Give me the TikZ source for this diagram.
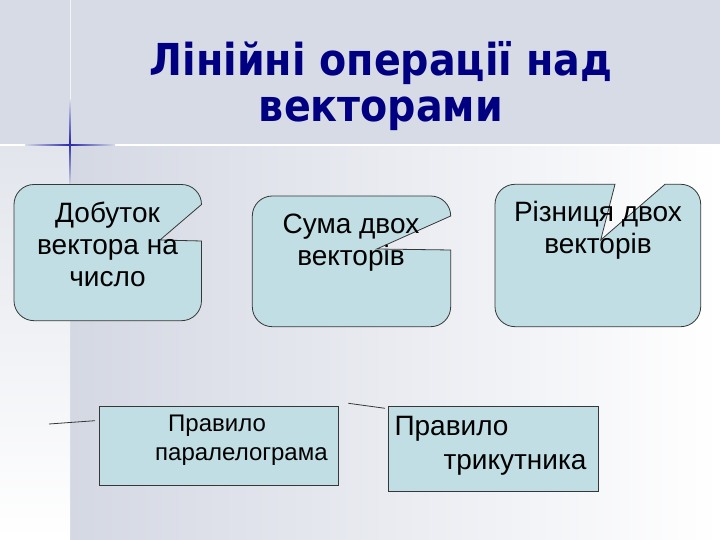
\documentclass[tikz,border=0pt]{standalone}
\usepackage{fontspec}
\setmainfont{Liberation Sans}
\newfontfamily\titlefont{DejaVu Sans Condensed Bold}
\definecolor{bandcol}{RGB}{215,219,230}
\definecolor{lowcol}{RGB}{212,216,227}
\definecolor{stripcol}{RGB}{226,229,236}
\definecolor{crossblue}{RGB}{40,40,170}
\definecolor{titleblue}{RGB}{0,0,128}
\definecolor{boxfill}{RGB}{192,222,227}
\definecolor{edgegray}{RGB}{55,55,55}
\begin{document}
\begin{tikzpicture}[x=1pt,y=1pt,
        callout/.style={draw=edgegray, fill=boxfill, line width=0.8pt},
        calltext/.style={font=\fontsize{28}{32}\selectfont, align=center, anchor=base, inner sep=0pt},
        rulebox/.style={draw=edgegray, fill=boxfill, line width=0.8pt,
            align=left, inner xsep=0pt, inner ysep=0pt, anchor=north west},
        ruletext/.style={align=left, inner sep=0pt, anchor=base west},
        stray/.style={draw=edgegray, line width=0.8pt}
        ]

        \useasboundingbox (0,0) rectangle (720,540);

        \fill[bandcol] (0,395) rectangle (720,540);
        \shade[left color=lowcol, right color=white] (70,0) rectangle (720,395);
        \shade[top color=stripcol, bottom color=white] (0,0) rectangle (70,395);
        \draw[white, line width=1.5pt] (0,395) -- (720,395);
        \draw[white!70!bandcol, line width=1pt] (70,396) -- (70,540);
        \shade[left color=bandcol, right color=bandcol, middle color=crossblue] (25,394.3) rectangle (115,395.7);
        \shade[top color=bandcol, bottom color=lowcol, middle color=crossblue] (69.3,355) rectangle (70.7,440);

        \node[font=\titlefont\fontsize{44}{46}\selectfont, text=titleblue, align=center, anchor=base] (title) at (381,418) {Лінійні операції над\\векторами};

        \path[callout] (201.5,335.5) -- (160,300) -- (201.5,299) -- (201.5,239.3) arc[start angle=0, end angle=-90, radius=20]
            -- (34,219.3) arc[start angle=270, end angle=180, radius=20]
            -- (14,335.5) arc[start angle=180, end angle=90, radius=20]
            -- (181.5,355.5) arc[start angle=90, end angle=0, radius=20] -- cycle;
        \path[callout] (450.7,324) -- (376.7,291) -- (450.7,290) -- (450.7,233.3) arc[start angle=0, end angle=-90, radius=20]
            -- (272.3,213.3) arc[start angle=270, end angle=180, radius=20]
            -- (252.3,324) arc[start angle=180, end angle=90, radius=20]
            -- (430.7,344) arc[start angle=90, end angle=0, radius=20] -- cycle;
        \path[callout] (615,355.7) -- (600.7,300) -- (665,355.7) -- (680.7,355.7) arc[start angle=90, end angle=0, radius=20]
            -- (700.7,233.3) arc[start angle=0, end angle=-90, radius=20]
            -- (515,213.3) arc[start angle=270, end angle=180, radius=20]
            -- (495,335.7) arc[start angle=180, end angle=90, radius=20] -- cycle;

        \node[calltext] (mult) at (107.5,253) {Добуток\\вектора на\\число};
        \node[calltext] (sum) at (351,274.3) {Сума двох\\векторів};
        \node[calltext] (diff) at (598,286.7) {Різниця двох\\векторів};

        \node[rulebox, minimum width=238.7pt, minimum height=79.3pt] (para) at (99,134) {};
        \node[ruletext, font=\fontsize{24}{29}\selectfont] (paratext) at (99,79) {\hspace*{69pt}Правило\\\hspace*{56pt}паралелограма};
        \node[rulebox, minimum width=210pt, minimum height=85pt] (tri) at (388.3,134) {};
        \node[ruletext, font=\fontsize{28}{34}\selectfont] (tritext) at (388.3,70) {\hspace*{6pt}Правило\\\hspace*{55pt}трикутника};

        \coordinate (a1) at (49,116);
        \coordinate (a2) at (95,119.3);
        \coordinate (b1) at (348.3,136.7);
        \coordinate (b2) at (385,131.7);
        \draw[stray] (a1) -- (a2);
        \draw[stray] (b1) -- (b2);

    \end{tikzpicture}
\end{document}
